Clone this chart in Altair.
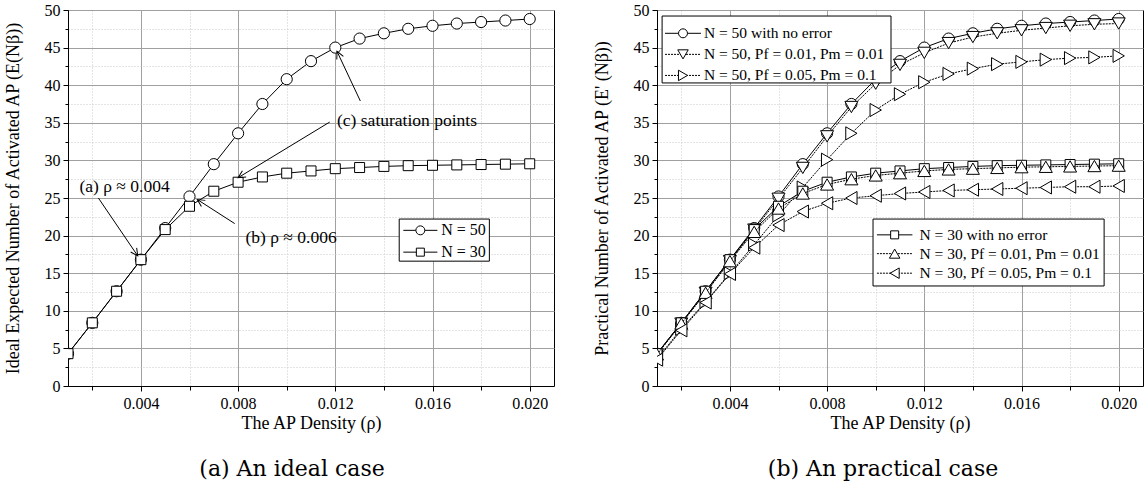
import math
import altair as alt
import pandas as pd

# ---------------- data ----------------
rho = [0.001, 0.002, 0.003, 0.004, 0.005, 0.006, 0.007, 0.008, 0.009, 0.010,
       0.011, 0.012, 0.013, 0.014, 0.015, 0.016, 0.017, 0.018, 0.019, 0.020]

n50_ideal = [4.3, 8.4, 12.6, 16.8, 21.0, 25.2, 29.5, 33.6, 37.5, 40.8,
             43.2, 45.0, 46.2, 46.9, 47.5, 47.9, 48.2, 48.4, 48.6, 48.8]
n30_ideal = [4.3, 8.4, 12.6, 16.8, 20.8, 23.9, 25.9, 27.1, 27.8, 28.3,
             28.6, 28.9, 29.05, 29.2, 29.3, 29.35, 29.4, 29.45, 29.5, 29.55]

n50_pf001 = [4.2, 8.3, 12.4, 16.6, 20.8, 24.9, 29.0, 33.2, 37.1, 40.2,
             42.7, 44.3, 45.6, 46.4, 46.9, 47.3, 47.6, 47.9, 48.1, 48.2]
n50_pf005 = [3.6, 7.6, 11.2, 15.0, 18.8, 22.7, 26.4, 30.1, 33.6, 36.7,
             38.8, 40.4, 41.5, 42.2, 42.8, 43.1, 43.4, 43.6, 43.7, 43.9]
n30_pf001 = [4.2, 8.3, 12.4, 16.6, 20.5, 23.6, 25.6, 26.8, 27.5, 28.0,
             28.3, 28.6, 28.8, 28.9, 29.0, 29.1, 29.15, 29.2, 29.25, 29.3]
n30_pf005 = [3.5, 7.4, 11.1, 14.9, 18.4, 21.4, 23.2, 24.3, 25.0, 25.3,
             25.6, 25.8, 26.0, 26.1, 26.2, 26.3, 26.4, 26.5, 26.5, 26.6]

x_tick_values = [0.002, 0.004, 0.006, 0.008, 0.010, 0.012, 0.014, 0.016, 0.018, 0.020]
y_tick_values = [0, 2.5, 5, 7.5, 10, 12.5, 15, 17.5, 20, 22.5, 25, 27.5, 30,
                 32.5, 35, 37.5, 40, 42.5, 45, 47.5, 50]

label_n50 = "N = 50"
label_n30 = "N = 30"
label_n50_ok = "N = 50 with no error"
label_n50_e1 = "N = 50, Pf = 0.01, Pm = 0.01"
label_n50_e2 = "N = 50, Pf = 0.05, Pm = 0.1"
label_n30_ok = "N = 30 with no error"
label_n30_e1 = "N = 30, Pf = 0.01, Pm = 0.01"
label_n30_e2 = "N = 30, Pf = 0.05, Pm = 0.1"

x_title = "The AP Density (ρ)"
y_title_a = "Ideal Expected Number of Activated AP (E(Nβ))"
y_title_b = "Practical Number of Activated AP (E' (Nβ))"
caption_a = "(a) An ideal case"
caption_b = "(b) An practical case"

# annotation texts (panel a), positions in data units
ann_texts = ["(a) ρ ≈ 0.004", "(b) ρ ≈ 0.006", "(c) saturation points"]
ann_tx = [0.00147, 0.0083, 0.01207]
ann_ty = [26.4, 19.7, 35.3]
arrow_x1 = [0.00225, 0.00786, 0.01303, 0.01177]
arrow_y1 = [25.0, 21.6, 37.9, 35.1]
arrow_x2 = [0.00387, 0.00632, 0.01207, 0.0080]
arrow_y2 = [17.3, 24.8, 44.5, 27.7]

# ---------------- layout / style ----------------
W, H = 486, 376
XDOM = [0.001, 0.021]
YDOM = [0, 50]
PX_PER_X = W / (XDOM[1] - XDOM[0])
PX_PER_Y = H / (YDOM[1] - YDOM[0])
FONT = "Liberation Serif"
DOT = [2, 1]

minor_x = "round(datum.value * 1000) % 4 != 0"
minor_y = "datum.value % 5 != 0"


def x_axis():
    return alt.Axis(
        values=x_tick_values,
        labelExpr="round(datum.value * 1000) % 4 == 0 ? format(datum.value, '.3f') : ''",
        title=x_title, grid=True,
        gridColor={"condition": {"test": minor_x, "value": "#c8c8c8"}, "value": "#a0a0a0"},
        gridDash={"condition": {"test": minor_x, "value": [1, 2]}, "value": []},
        tickSize={"condition": {"test": minor_x, "value": 4}, "value": 5},
        labelOverlap=False, labelFlush=False, labelPadding=4, titlePadding=3,
    )


def y_axis(title):
    return alt.Axis(
        values=y_tick_values,
        labelExpr="datum.value % 5 == 0 ? format(datum.value, 'd') : ''",
        title=title, grid=True,
        gridColor={"condition": {"test": minor_y, "value": "#c8c8c8"}, "value": "#a0a0a0"},
        gridDash={"condition": {"test": minor_y, "value": [1, 2]}, "value": []},
        tickSize={"condition": {"test": minor_y, "value": 3}, "value": 5},
        labelOverlap=False, labelFlush=False, labelPadding=3, titlePadding=22,
    )


def xe(field="x"):
    return alt.X(f"{field}:Q", scale=alt.Scale(domain=XDOM, nice=False, zero=False), axis=x_axis())


def ye(field, title):
    return alt.Y(f"{field}:Q", scale=alt.Scale(domain=YDOM, nice=False, zero=False), axis=y_axis(title))


def line_kwargs(dash):
    kw = dict(color="black", strokeWidth=1, clip=True)
    if dash:
        kw["strokeDash"] = dash
    return kw


def series(ys, shape, size, dash, ytitle):
    df = pd.DataFrame({"x": rho, "y": ys})
    base = alt.Chart(df).encode(x=xe(), y=ye("y", ytitle))
    line = base.mark_line(**line_kwargs(dash))
    pts = base.mark_point(shape=shape, size=size, filled=True, fill="white", stroke="black",
                          strokeWidth=1, opacity=1, clip=True)
    return [line, pts]


def legend(box, rows, sample, ytitle, fsize):
    x1, x2, y1, y2 = box
    xa, xb, xs, xt = sample
    layers = [alt.Chart(pd.DataFrame({"x": [x1], "x2": [x2], "y": [y1], "y2": [y2]}))
              .mark_rect(fill="white", stroke="black", strokeWidth=1)
              .encode(x=xe(), x2="x2:Q", y=ye("y", ytitle), y2="y2:Q")]
    for (yy, label, shape, size, dash) in rows:
        d = pd.DataFrame({"xa": [xa], "xb": [xb], "xs": [xs], "xt": [xt], "y": [yy], "t": [label]})
        rk = dict(color="black", strokeWidth=1)
        if dash:
            rk["strokeDash"] = dash
        layers.append(alt.Chart(d).mark_rule(**rk).encode(x=xe("xa"), x2="xb:Q", y=ye("y", ytitle)))
        layers.append(alt.Chart(d).mark_point(shape=shape, size=size, filled=True, fill="white",
                                              stroke="black", strokeWidth=1, opacity=1)
                      .encode(x=xe("xs"), y=ye("y", ytitle)))
        layers.append(alt.Chart(d).mark_text(align="left", baseline="middle", font=FONT, fontSize=fsize,
                                             color="black")
                      .encode(x=xe("xt"), y=ye("y", ytitle), text="t:N"))
    return layers


S_CIRCLE, S_SQUARE, S_TRI = 125, 100, 170

# ---------------- panel (a) ----------------
layers_a = []
layers_a += series(n50_ideal, "circle", S_CIRCLE, None, y_title_a)
layers_a += series(n30_ideal, "square", S_SQUARE, None, y_title_a)
layers_a += legend((0.01463, 0.01834, 22.2, 16.6),
                   [(20.7, label_n50, "circle", 80, None), (17.8, label_n30, "square", 64, None)],
                   (0.0148, 0.0162, 0.0155, 0.01636), y_title_a, 16)

ann_df = pd.DataFrame({"x": ann_tx, "y": ann_ty, "t": ann_texts})
layers_a.append(alt.Chart(ann_df).mark_text(align="left", baseline="middle", font=FONT, fontSize=17.5,
                                            color="black")
                .encode(x=xe(), y=ye("y", y_title_a), text="t:N"))
angles = []
for i in range(len(arrow_x1)):
    dx = (arrow_x2[i] - arrow_x1[i]) * PX_PER_X
    dy = -(arrow_y2[i] - arrow_y1[i]) * PX_PER_Y
    angles.append(math.degrees(math.atan2(dx, -dy)) % 360)
arr_df = pd.DataFrame({"x": arrow_x1, "y": arrow_y1, "x2": arrow_x2, "y2": arrow_y2, "ang": angles})
layers_a.append(alt.Chart(arr_df).mark_rule(color="black", strokeWidth=1)
                .encode(x=xe(), y=ye("y", y_title_a), x2="x2:Q", y2="y2:Q"))
layers_a.append(alt.Chart(arr_df).mark_point(shape="M-0.45,0.9L0,0L0.45,0.9", size=260, filled=False,
                                             stroke="black", strokeWidth=1, opacity=1)
                .encode(x=xe("x2"), y=ye("y2", y_title_a), angle=alt.Angle("ang:Q", scale=None)))

left = alt.layer(*layers_a).properties(
    width=W, height=H,
    title=alt.TitleParams(caption_a, orient="bottom", font="DejaVu Serif", fontSize=22,
                          fontWeight="normal", anchor="middle", dx=-19, offset=27, color="black"),
)

# ---------------- panel (b) ----------------
layers_b = []
layers_b += series(n50_ideal, "circle", S_CIRCLE, None, y_title_b)
layers_b += series(n50_pf001, "triangle-down", S_TRI, DOT, y_title_b)
layers_b += series(n50_pf005, "triangle-right", S_TRI, DOT, y_title_b)
layers_b += series(n30_ideal, "square", S_SQUARE, None, y_title_b)
layers_b += series(n30_pf001, "triangle-up", S_TRI, DOT, y_title_b)
layers_b += series(n30_pf005, "triangle-left", S_TRI, DOT, y_title_b)
layers_b += legend((0.00121, 0.01063, 49.2, 40.3),
                   [(46.9, label_n50_ok, "circle", 80, None),
                    (44.1, label_n50_e1, "triangle-down", 110, DOT),
                    (41.3, label_n50_e2, "triangle-right", 110, DOT)],
                   (0.00133, 0.00281, 0.00207, 0.00293), y_title_b, 15.5)
layers_b += legend((0.00989, 0.0194, 22.2, 13.3),
                   [(20.1, label_n30_ok, "square", 64, None),
                    (17.6, label_n30_e1, "triangle-up", 110, DOT),
                    (15.0, label_n30_e2, "triangle-left", 110, DOT)],
                   (0.01005, 0.01151, 0.01078, 0.0118), y_title_b, 15.5)

right = alt.layer(*layers_b).properties(
    width=W, height=H,
    title=alt.TitleParams(caption_b, orient="bottom", font="DejaVu Serif", fontSize=22,
                          fontWeight="normal", anchor="middle", dx=-17, offset=27, color="black"),
)

chart = alt.hconcat(left, right, spacing=37).properties(
    padding={"left": 3, "top": 1, "right": 2, "bottom": 2}
).configure_axis(
    labelFont=FONT, labelFontSize=16, labelColor="black",
    titleFont=FONT, titleFontSize=18, titleFontWeight="normal", titleColor="black",
    domainColor="black", domainWidth=1, tickColor="black", tickWidth=1,
).configure_view(stroke="black", strokeWidth=1)

chart.save("out.html", embed_options={"renderer": "svg", "actions": False})
